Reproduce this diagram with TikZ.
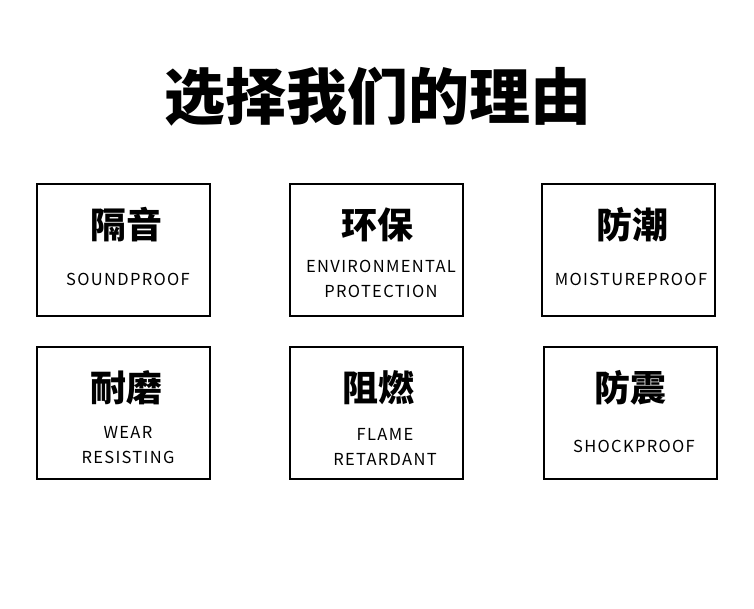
\documentclass[tikz,border=0pt]{standalone}
\usepackage{fontspec}
\newfontfamily\cjk{Noto Sans CJK SC}
\newfontfamily\cjkls{Noto Sans CJK SC}[LetterSpace=8]
\usetikzlibrary{positioning}
\tikzset{
  card/.style={draw=black,line width=2.5pt,minimum width=173pt,minimum height=132pt,inner sep=0pt},
  head/.style={font=\cjk\bfseries\fontsize{36}{40}\selectfont},
  sub/.style={font=\cjkls\fontsize{16.5}{25}\selectfont,align=center}
}
\begin{document}
\begin{tikzpicture}[x=1pt,y=-1pt]
\useasboundingbox (0,0) rectangle (754,608);
\node[font=\cjk\bfseries\fontsize{61}{64}\selectfont] (title) at (378,97) {选择我们的理由};
% first row
\node[card] (sound) at (123.5,250) {};
\node[card] (envir) at (376.5,250) {};
\node[card] (moist) at (628.5,250) {};
% second row
\node[card] (wear) at (123.5,413) {};
\node[card] (flame) at (376.5,413) {};
\node[card] (shock) at (630.5,413) {};
\node[head] at (126,225) {隔音};
\node[sub] at (128,279) {SOUNDPROOF};
\node[head] at (377,225) {环保};
\node[sub] at (381,279) {ENVIRONMENTAL\\PROTECTION};
\node[head] at (632,225) {防潮};
\node[sub] at (631,279) {MOISTUREPROOF};
\node[head] at (126,388) {耐磨};
\node[sub] at (128,445) {WEAR\\RESISTING};
\node[head] at (378,388) {阻燃};
\node[sub] at (385,447) {FLAME\\RETARDANT};
\node[head] at (630,388) {防震};
\node[sub] at (634,446) {SHOCKPROOF};
\end{tikzpicture}
\end{document}
